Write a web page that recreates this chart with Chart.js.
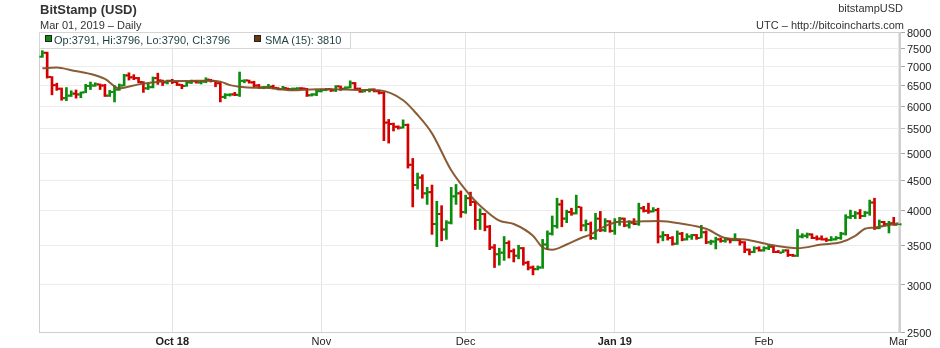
<!DOCTYPE html>
<html>
<head>
<meta charset="utf-8">
<title>BitStamp (USD)</title>
<script src="https://cdn.jsdelivr.net/npm/chart.js@4.4.1/dist/chart.umd.min.js"></script>
<style>
  html, body { margin: 0; padding: 0; background: #fff; }
  #wrap { position: relative; width: 940px; height: 348px; overflow: hidden;
    font-family: 'Liberation Sans', Arial, sans-serif; color: #333; }
  #wrap canvas { position: absolute; left: 0; top: 0; }
  .txt { position: absolute; font-size: 11px; line-height: 11px; white-space: nowrap; }
  .title { font-size: 13px; line-height: 13px; font-weight: bold; }
  #legend { position: absolute; left: 39px; top: 32px; width: 312px; height: 17px;
    background: #fff; border: 1px solid #d6d6d6; box-sizing: border-box; color: #1c3f3f; }
  #legend .txt { top: 2px; }
  .sw { position: absolute; top: 2px; width: 7px; height: 7px; box-sizing: border-box;
    border: 1px solid #222; }
</style>
</head>
<body>
<div id="wrap">
  <canvas id="chart" width="940" height="348"></canvas>
  <div class="txt title" style="left:40px; top:3px;">BitStamp (USD)</div>
  <div class="txt" style="left:40px; top:20px;">Mar 01, 2019 &ndash; Daily</div>
  <div class="txt" style="right:37px; top:3px;">bitstampUSD</div>
  <div class="txt" style="right:36px; top:20px;">UTC &ndash; http://bitcoincharts.com</div>
  <div id="legend">
    <span class="sw" style="left:5px; background:#0c8c0c;"></span>
    <span class="txt" id="lg-ohlc" style="left:14px;"></span>
    <span class="sw" style="left:214px; background:#6b3a12;"></span>
    <span class="txt" id="lg-sma" style="left:225px;"></span>
  </div>
</div>
<script>
// daily bars, Sep 4 2018 (index 0) .. Mar 1 2019 (index 178)
const opens = [
  7270,7380,6720,6510,6420,6190,6250,6300,6280,6330,
  6490,6500,6530,6500,6250,6340,6400,6500,6760,6710,
  6690,6590,6430,6460,6690,6630,6580,6620,6590,6520,
  6490,6580,6610,6580,6600,6650,6620,6560,6220,6270,
  6280,6270,6620,6630,6580,6500,6450,6460,6470,6440,
  6410,6440,6410,6420,6430,6420,6260,6280,6360,6390,
  6410,6380,6480,6420,6450,6560,6420,6350,6390,6400,
  6360,6320,5630,5600,5540,5520,5580,4780,4420,4550,
  4280,4300,3800,3950,3720,3820,4230,4280,3980,4200,
  4140,3860,3950,3760,3470,3380,3400,3530,3420,3360,
  3460,3270,3210,3190,3210,3510,3660,3770,4100,3880,
  3980,3960,4060,3780,3800,3600,3880,3710,3840,3700,
  3830,3880,3780,3820,3800,4040,4000,3990,4010,3620,
  3640,3600,3520,3660,3580,3620,3640,3600,3680,3540,
  3550,3580,3560,3580,3570,3570,3540,3440,3410,3460,
  3430,3460,3480,3410,3400,3430,3370,3360,3620,3630,
  3650,3600,3590,3580,3570,3580,3600,3660,3900,3920,
  3960,3920,3970,4130,3740,3830,3800,3810,3791
];
const highs = [
  7440,7400,6730,6560,6440,6450,6370,6390,6340,6530,
  6590,6570,6540,6530,6380,6500,6540,6790,6830,6780,
  6710,6600,6550,6720,6820,6640,6640,6660,6600,6530,
  6610,6640,6620,6620,6700,6660,6620,6580,6300,6300,
  6330,6850,6650,6640,6610,6530,6480,6530,6510,6450,
  6480,6440,6440,6450,6450,6430,6300,6380,6410,6430,
  6420,6500,6490,6470,6620,6580,6440,6400,6420,6420,
  6380,6340,5700,5620,5560,5690,5600,4900,4630,4600,
  4380,4420,4150,4080,3850,4380,4430,4320,4250,4300,
  4150,4030,3960,3780,3510,3460,3620,3560,3450,3500,
  3470,3290,3230,3230,3580,3700,3920,4200,4170,4010,
  4040,4250,4060,3860,3830,3960,3990,3880,3850,3880,
  3900,3890,3850,3880,4120,4070,4120,4050,4040,3690,
  3650,3620,3700,3680,3660,3650,3650,3780,3700,3570,
  3610,3600,3600,3590,3660,3580,3550,3450,3480,3480,
  3480,3500,3490,3430,3440,3440,3380,3720,3660,3670,
  3660,3630,3630,3600,3620,3620,3680,3940,4010,3990,
  4020,3990,4170,4200,3860,3840,3840,3900,3796
];
const lows = [
  7250,6690,6270,6380,6140,6130,6230,6190,6200,6320,
  6400,6480,6400,6230,6230,6100,6380,6490,6640,6650,
  6570,6330,6400,6440,6530,6500,6540,6550,6500,6420,
  6480,6550,6560,6540,6570,6590,6470,6100,6180,6240,
  6250,6230,6570,6560,6460,6430,6420,6440,6420,6390,
  6400,6390,6380,6400,6410,6230,6240,6250,6340,6370,
  6350,6350,6380,6400,6440,6390,6330,6340,6340,6340,
  6290,5250,5200,5450,5490,5510,4720,4060,4350,4200,
  4100,3650,3480,3560,3580,3800,4100,3900,3960,4080,
  3720,3720,3700,3440,3210,3240,3300,3330,3280,3320,
  3240,3180,3120,3180,3200,3440,3640,3740,3760,3820,
  3930,3950,3700,3700,3580,3580,3690,3690,3680,3650,
  3780,3760,3740,3790,3780,3980,3960,3980,3530,3560,
  3570,3500,3510,3560,3570,3580,3580,3600,3520,3510,
  3450,3540,3540,3530,3560,3500,3400,3370,3400,3420,
  3420,3440,3400,3400,3400,3350,3350,3350,3600,3600,
  3590,3570,3570,3550,3560,3570,3580,3640,3880,3880,
  3880,3910,3930,3720,3730,3780,3670,3780,3790
];
const closes = [
  7380,6720,6510,6420,6190,6250,6300,6280,6330,6490,
  6500,6530,6500,6250,6340,6400,6500,6760,6710,6690,
  6590,6430,6460,6690,6630,6580,6620,6590,6520,6490,
  6580,6610,6580,6600,6650,6620,6560,6220,6270,6280,
  6270,6620,6630,6580,6500,6450,6460,6470,6440,6410,
  6440,6410,6420,6430,6420,6260,6280,6360,6390,6410,
  6380,6480,6420,6450,6560,6420,6350,6390,6400,6360,
  6320,5630,5600,5540,5520,5580,4780,4420,4550,4280,
  4300,3800,3950,3720,3820,4230,4280,3980,4200,4140,
  3860,3950,3760,3470,3380,3400,3530,3420,3360,3460,
  3270,3210,3190,3210,3510,3660,3770,4100,3880,3980,
  3960,4060,3780,3800,3600,3880,3710,3840,3700,3830,
  3880,3780,3820,3800,4040,4000,3990,4010,3620,3640,
  3600,3520,3660,3580,3620,3640,3600,3680,3540,3550,
  3580,3560,3580,3570,3570,3540,3440,3410,3460,3430,
  3460,3480,3410,3400,3430,3370,3360,3620,3630,3650,
  3600,3590,3580,3570,3580,3600,3660,3900,3920,3960,
  3920,3970,4130,3740,3830,3800,3810,3790,3796
];

// 15-day simple moving average, sampled at these bar indexes
const smaDays = [0,3,6,10,13,16,17,20,24,27,30,34,37,39,41,44,46,52,57,60,
  66,70,75,78,81,85,89,91,95,98,102,104,106,109,112,114,117,120,122,128,
  133,138,142,146,151,155,157,162,166,169,171,173,178];
const smaValues = [6950,6970,6900,6800,6670,6430,6445,6530,6590,6615,6615,6625,6600,6510,6470,6445,6445,6380,6410,6410,
  6390,6380,6140,5800,5400,4680,4240,4080,3850,3800,3630,3470,3440,3510,3600,3650,3770,3835,3835,3845,
  3805,3730,3600,3580,3510,3470,3460,3510,3540,3630,3730,3750,3810];

// axis ticks
const monthTickDays = [27, 58, 88, 119, 150, 178];
const monthLabels = ['Oct 18', 'Nov', 'Dec', 'Jan 19', 'Feb', 'Mar'];
const monthBold = [true, false, false, true, false, false];
const priceTicks = [2500, 3000, 3500, 4000, 4500, 5000, 5500, 6000, 6500, 7000, 7500, 8000];

const UP = '#0c8c0c';
const DOWN = '#d40000';
const FONT = "'Liberation Sans', Arial, sans-serif";

const last = opens.length - 1;
document.getElementById('lg-ohlc').textContent =
  'Op:' + opens[last] + ', Hi:' + highs[last] + ', Lo:' + lows[last] + ', Cl:' + closes[last];
document.getElementById('lg-sma').textContent = 'SMA (15): ' + smaValues[smaValues.length - 1];

function isUp(i) { return closes[i] >= opens[i]; }

// plot frame: thin grey box, slightly heavier on the price-axis side
const framePlugin = {
  id: 'frame',
  beforeDatasetsDraw(chart) {
    const a = chart.chartArea, c = chart.ctx;
    c.save();
    c.strokeStyle = '#cfcfcf';
    c.lineWidth = 1;
    c.beginPath();
    c.moveTo(a.left + 0.5, a.bottom + 0.5);
    c.lineTo(a.left + 0.5, a.top + 0.5);
    c.lineTo(a.right, a.top + 0.5);
    c.moveTo(a.left, a.bottom + 0.5);
    c.lineTo(a.right, a.bottom + 0.5);
    c.stroke();
    c.fillStyle = '#cfcfcf';
    c.fillRect(a.right - 1, a.top, 2, a.bottom - a.top + 1);
    c.restore();
  }
};

// open tick on the left, close tick on the right of each high-low bar
const ohlcTicks = {
  id: 'ohlcTicks',
  afterDatasetDraw(chart, args) {
    if (args.index !== 0) return;
    const xs = chart.scales.x, ys = chart.scales.y, c = chart.ctx;
    c.save();
    for (let i = 0; i < opens.length; i++) {
      const x = xs.getPixelForValue(i);
      c.fillStyle = isUp(i) ? UP : DOWN;
      c.fillRect(x - 3, ys.getPixelForValue(opens[i]) - 1, 2, 2);
      c.fillRect(x + 1, ys.getPixelForValue(closes[i]) - 1, 2, 2);
    }
    c.restore();
  }
};

const bars = opens.map((o, i) => ({ x: i, y: [lows[i], highs[i]] }));
const smaPts = smaDays.map((d, i) => ({ x: d, y: smaValues[i] }));

new Chart(document.getElementById('chart').getContext('2d'), {
  type: 'bar',
  data: {
    datasets: [
      {
        type: 'bar',
        label: 'OHLC',
        data: bars,
        backgroundColor: ctx => isUp(ctx.dataIndex) ? UP : DOWN,
        borderWidth: 0,
        barThickness: 2,
        grouped: false,
        order: 2
      },
      {
        type: 'line',
        label: 'SMA (15)',
        data: smaPts,
        borderColor: 'rgba(128, 78, 36, 0.92)',
        borderWidth: 2,
        pointRadius: 0,
        cubicInterpolationMode: 'monotone',
        order: 1
      }
    ]
  },
  options: {
    responsive: false,
    animation: false,
    events: [],
    layout: { padding: { left: 39, top: 32, right: 0, bottom: 0 } },
    plugins: { legend: { display: false }, tooltip: { enabled: false } },
    scales: {
      x: {
        type: 'linear',
        min: -0.7,
        max: 178.3,
        offset: false,
        grid: { color: '#e4e4e4', offset: false, drawTicks: false },
        border: { display: false },
        ticks: {
          autoSkip: false,
          maxRotation: 0,
          padding: 3,
          color: '#222',
          font: ctx => ({ family: FONT, size: 11, weight: monthBold[ctx.index] ? 'bold' : 'normal' }),
          callback: (v, i) => monthLabels[i]
        },
        afterBuildTicks: s => { s.ticks = monthTickDays.map(v => ({ value: v })); },
        afterFit: s => { s.height = 16; }
      },
      y: {
        type: 'logarithmic',
        position: 'right',
        min: 2500,
        max: 8000,
        grid: { color: '#ececec', tickColor: '#a8a8a8', tickLength: 5 },
        border: { display: false },
        ticks: {
          padding: 2,
          labelOffset: 1.5,
          color: '#222',
          font: { family: FONT, size: 11 },
          callback: v => String(v)
        },
        afterBuildTicks: s => { s.ticks = priceTicks.map(v => ({ value: v })); },
        afterFit: s => { s.width = 40; }
      }
    }
  },
  plugins: [framePlugin, ohlcTicks]
});
</script>
</body>
</html>
